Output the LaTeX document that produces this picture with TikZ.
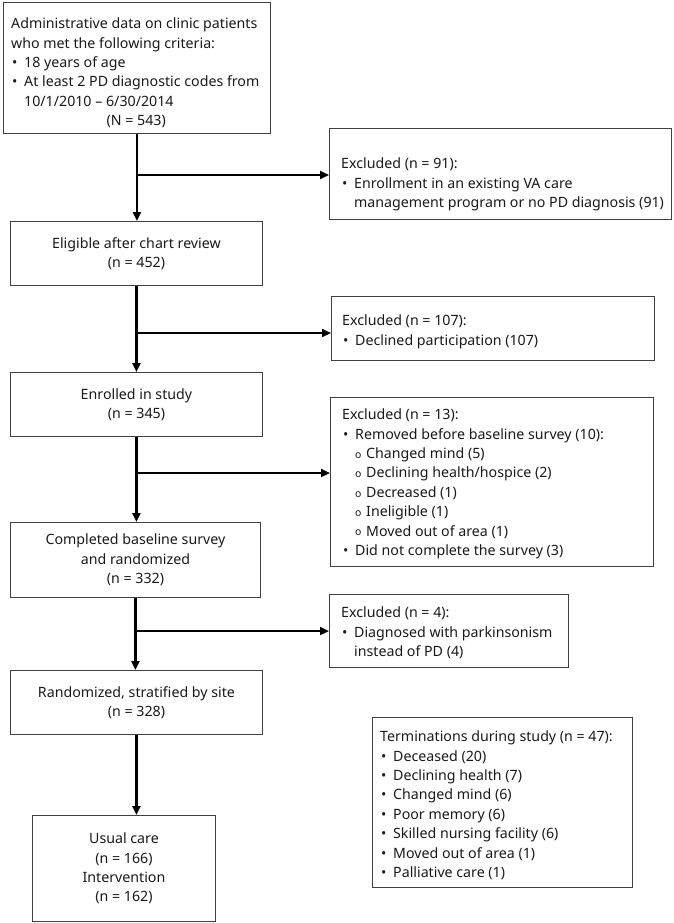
\documentclass[tikz,border=0pt]{standalone}
\usepackage{fontspec}
\setmainfont{Noto Sans}
\usetikzlibrary{arrows.meta,calc}
\newcommand\bl{\hspace*{1pt}\makebox[12pt][l]{•}}
\newcommand\sbl{\hspace*{13pt}\makebox[11pt][l]{\raisebox{0.3pt}{\fontsize{10.5}{10.5}\selectfont o}}}
\begin{document}
\begin{tikzpicture}[x=1pt,y=-1pt,
  box/.style={draw=black!75, line width=0.9pt, inner sep=0pt, anchor=north west},
  txt/.style={inner sep=0pt, anchor=north west, align=left, font=\fontsize{14.2}{19.4}\selectfont, text=black!90},
  ctxt/.style={font=\fontsize{14.2}{19.4}\selectfont, align=center, text=black!90},
  arr/.style={line width=2.2pt, -{Triangle[length=9pt,width=8pt]}}]
\useasboundingbox (0,0) rectangle (674,923);
% main boxes
\node[box, minimum width=267pt, minimum height=131pt] (b1) at (3,2) {};
\node[txt] (t1) at (11,15) {\strut Administrative data on clinic patients\\
who met the following criteria:\\
\bl 18 years of age\\
\bl At least 2 PD diagnostic codes from\\
\hspace*{13pt}10/1/2010 – 6/30/2014\\
\makebox[250pt][c]{(N = 543)}};
\node[box, ctxt, minimum width=252pt, minimum height=64pt] (b2) at (10,221) {Eligible after chart review\\(n = 452)};
\node[box, ctxt, minimum width=252pt, minimum height=64pt] (b3) at (10,372) {Enrolled in study\\(n = 345)};
\node[box, ctxt, minimum width=250pt, minimum height=75pt] (b4) at (10,522) {Completed baseline survey\\and randomized\\(n = 332)};
\node[box, ctxt, minimum width=252pt, minimum height=64pt] (b5) at (10,670) {Randomized, stratified by site\\(n = 328)};
\node[box, ctxt, minimum width=183pt, minimum height=106pt] (b6) at (32,815) {Usual care\\(n = 166)\\Intervention\\(n = 162)};
% exclusion boxes
\node[box, minimum width=342pt, minimum height=91pt] (e1) at (329,128) {};
\node[txt] (te1) at (341,155) {\strut Excluded (n = 91):\\
\bl Enrollment in an existing VA care\\
\hspace*{13pt}management program or no PD diagnosis (91)};
\node[box, minimum width=323pt, minimum height=64pt] (e2) at (331,296) {};
\node[txt] (te2) at (342,312) {\strut Excluded (n = 107):\\
\bl Declined participation (107)};
\node[box, minimum width=323pt, minimum height=169pt] (e3) at (330,397) {};
\node[txt] (te3) at (342,406) {\strut Excluded (n = 13):\\
\bl Removed before baseline survey (10):\\
\sbl Changed mind (5)\\
\sbl Declining health/hospice (2)\\
\sbl Decreased (1)\\
\sbl Ineligible (1)\\
\sbl Moved out of area (1)\\
\bl Did not complete the survey (3)};
\node[box, minimum width=239pt, minimum height=73pt] (e4) at (329,594) {};
\node[txt] (te4) at (341,604) {\strut Excluded (n = 4):\\
\bl Diagnosed with parkinsonism\\
\hspace*{13pt}instead of PD (4)};
\node[box, minimum width=260pt, minimum height=170pt] (tb) at (372,717) {};
\node[txt] (ttb) at (380,728) {\strut Terminations during study (n = 47):\\
\bl Deceased (20)\\
\bl Declining health (7)\\
\bl Changed mind (6)\\
\bl Poor memory (6)\\
\bl Skilled nursing facility (6)\\
\bl Moved out of area (1)\\
\bl Palliative care (1)};
% junctions
\coordinate (j1) at (137,175);
\coordinate (j2) at (137,333);
\coordinate (j3) at (137,473);
\coordinate (j4) at (137,631);
% connectors
\draw[arr] (b1.south) -- (b1.south |- b2.north);
\draw[arr] (b2.south) -- (b2.south |- b3.north);
\draw[arr] (b3.south) -- (b3.south |- b4.north);
\draw[arr] (b4.south) -- (b4.south |- b5.north);
\draw[arr] (b5.south) -- (b5.south |- b6.north);
\draw[arr] (b1.south |- j1) -- (j1 -| e1.west);
\draw[arr] (b2.south |- j2) -- (j2 -| e2.west);
\draw[arr] (b3.south |- j3) -- (j3 -| e3.west);
\draw[arr] (b4.south |- j4) -- (j4 -| e4.west);
\end{tikzpicture}
\end{document}
